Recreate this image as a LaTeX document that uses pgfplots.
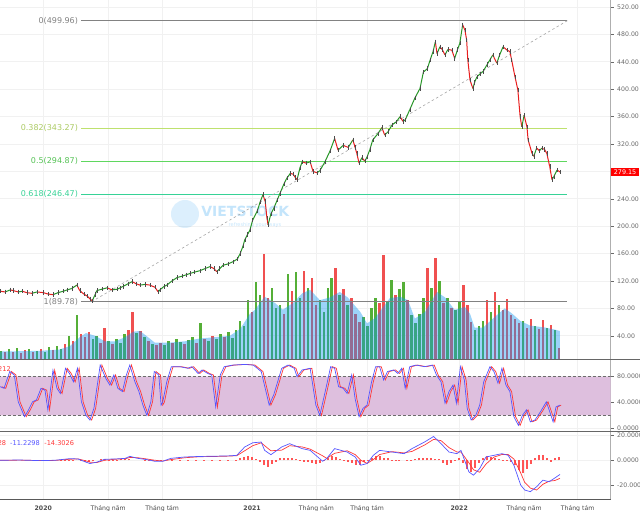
\documentclass[border=0pt]{standalone}
\usepackage{pgfplots}
\pgfplotsset{compat=1.18}
\usepackage{pgfplotstable}
\usepackage{fontspec}
\setmainfont{DejaVu Sans}
\definecolor{upg}{RGB}{40,150,40}
\definecolor{dnr}{RGB}{232,30,30}
\definecolor{volg}{RGB}{85,175,55}
\definecolor{volr}{RGB}{240,80,80}
\definecolor{mablue}{RGB}{20,150,240}
\definecolor{fib0}{RGB}{130,130,130}
\definecolor{fib382}{RGB}{190,225,110}
\definecolor{fib5}{RGB}{95,215,95}
\definecolor{fib618}{RGB}{55,210,150}
\definecolor{band}{RGB}{222,191,222}
\definecolor{axgray}{RGB}{175,175,175}
\definecolor{lblgray}{RGB}{105,105,105}
\definecolor{gridc}{RGB}{241,241,241}
\definecolor{mblue}{RGB}{85,85,255}
\definecolor{mred}{RGB}{255,55,55}
\newcommand\tf{\fontsize{6.2}{7}\selectfont}
\newcommand\lf{\fontsize{6.6}{7.5}\selectfont}
\newcommand\ff{\fontsize{8}{9}\selectfont}

% price: d = days since 2020-01-01, p = close, m = 1 if next move up
\pgfplotstableread{
d p m
-76 105 0
-67 104 1
-58 107 0
-53 106 0
-44 104 1
-37 105 0
-29 103 0
-20 102 1
-11 104 0
0 103 0
8 101 0
17 100 1
26 103 1
35 105 1
42 107 1
50 109 1
59 114 0
64 106 0
71 101 0
77 98 0
82 94 0
86 91 1
91 100 1
94 106 1
103 108 1
112 110 0
121 107 1
130 108 1
135 110 1
140 112 1
149 116 1
156 119 0
163 116 0
170 114 1
179 115 0
187 114 0
196 111 0
202 104 1
205 107 1
212 112 1
217 114 1
226 120 1
235 125 1
244 127 1
251 129 1
258 131 1
266 133 1
275 135 1
284 138 1
293 141 0
300 138 0
305 133.5 1
310 138 1
316 143 1
325 145 1
333 148 1
341 152 1
346 160 1
351 171 1
354 180 1
359 188 1
363 194 1
368 209 1
376 222 1
381 235 1
386 246 0
390 236 0
393 212 0
395 202 1
400 218 1
405 226 1
411 238 1
416 248 1
423 262 1
428 270 1
434 277 0
439 276 0
443 271 0
446 268 1
451 285 1
455 294 0
462 292 1
469 294 0
474 280 0
481 278 1
486 281 1
495 294 1
504 310 1
512 328 0
518 311 1
527 318 0
536 315 1
544 326 0
548 315 0
551 306 0
555 292 1
560 300 0
565 295 1
569 301 1
574 312 1
579 326 1
588 335 1
595 344 0
600 333 1
606 338 1
613 348 1
620 352 1
627 360 0
632 353 1
636 355 1
644 370 1
653 387 1
662 401 1
668 425 1
675 430 1
680 443 1
685 455 1
689 469 0
692 452 1
697 462 0
701 458 0
706 450 1
711 458 0
718 457 0
723 445 1
728 458 1
732 467 1
737 494 0
741 486 0
744 472 0
746 443 0
750 413 0
755 401 1
758 410 1
762 418 1
767 422 1
773 426 1
780 436 1
785 443 1
790 450 0
797 438 1
802 450 1
808 462 0
815 457 0
820 455 0
823 443 0
829 418 0
834 399 0
838 360 0
841 345 1
845 362 0
850 345 0
852 326 0
859 306 0
862 302 1
867 314 0
872 310 1
876 314 0
881 312 0
885 306 0
890 287 0
894 268 1
897 272 1
903 282 0
908 279.15 0
}\price

% volume (drawn on the price scale): g = up week, r = down week
\pgfplotstableread{
d g r
-74 18 nan
-67 nan 16
-60 20 nan
-53 nan 17
-46 22 nan
-39 nan 15
-32 nan 19
-25 21 nan
-18 nan 17
-11 18 nan
-4 nan 20
3 17 nan
10 23 nan
17 nan 19
24 25 nan
31 21 nan
38 nan 28
45 40 nan
52 nan 33
59 70 nan
66 nan 42
73 nan 38
80 nan 45
87 36 nan
94 40 nan
101 nan 30
108 nan 51
115 33 nan
122 nan 28
129 35 nan
136 30 nan
143 42 nan
150 nan 48
157 nan 75
164 44 nan
171 nan 47
178 38 nan
185 nan 32
192 28 nan
199 nan 26
206 nan 30
213 27 nan
220 33 nan
227 nan 29
234 35 nan
241 31 nan
248 nan 28
255 34 nan
262 38 nan
269 nan 30
276 58 nan
283 nan 36
290 32 nan
297 nan 40
304 35 nan
311 42 nan
318 nan 38
325 45 nan
332 37 nan
339 48 nan
346 62 nan
353 55 nan
360 92 nan
367 nan 75
374 118 nan
381 100 nan
388 nan 160
395 nan 95
402 110 nan
409 80 nan
416 85 nan
423 nan 72
430 130 nan
437 nan 105
444 133 nan
451 95 nan
458 nan 135
465 110 nan
472 nan 125
479 nan 85
486 92 nan
493 75 nan
500 110 nan
507 125 nan
514 nan 139
521 100 nan
528 nan 108
535 85 nan
542 nan 95
549 nan 72
556 nan 60
563 68 nan
570 55 nan
577 80 nan
584 95 nan
591 nan 88
598 nan 158
605 90 nan
612 121 nan
619 nan 100
626 108 nan
633 118 nan
640 nan 92
647 70 nan
654 58 nan
661 72 nan
668 95 nan
675 nan 139
682 110 nan
689 nan 153
696 120 nan
703 nan 88
710 95 nan
717 nan 80
724 77 nan
731 90 nan
738 nan 114
745 nan 85
752 nan 60
759 48 nan
766 55 nan
773 62 nan
780 nan 92
787 75 nan
794 nan 104
801 85 nan
808 nan 78
815 nan 93
822 nan 70
829 nan 65
836 nan 58
843 62 nan
850 nan 52
857 nan 64
864 55 nan
871 nan 50
878 nan 63
885 52 nan
892 nan 56
899 48 nan
906 nan 22
}\vol

\pgfplotstableread{
d ma
-76 17
-6 18
29 20
47 25
64 38
75 44
91 40
108 32
126 32
144 38
158 46
170 47
184 38
196 30
222 30
249 32
275 36
302 38
328 40
346 50
363 72
372 78
389 97
407 88
421 78
439 88
455 102
469 107
477 100
486 92
504 96
521 104
535 96
557 75
569 58
583 66
609 95
627 97
641 92
653 65
671 75
692 104
706 96
723 78
741 82
750 72
758 52
773 52
794 68
811 80
823 73
838 62
855 55
882 52
899 49
908 47
}\volma

\pgfplotstableread{
d k d2
-76 64.5 -73
-69 62 -66
-59 88 -56
-51 82.6 -48
-44 41 -41
-33 18 -30
-26 28.5 -23
-19 41 -16
-12 44 -9
-4 62 -1
3 59 6
8 28.5 11
17 90 20
24 62 27
30 54 33
39 93 42
46 85 49
53 72 56
60 93 63
67 41 70
75 20 78
82 12.8 85
89 31 92
100 98 103
110 77 113
117 67 120
124 82.6 127
131 62 134
139 57 142
146 82.6 149
152 98 155
161 72 164
168 57 171
175 36 178
182 20 185
189 41 192
195 88 198
203 82.6 206
207 36 210
210 41 213
217 72 220
225 95.5 228
240 95.5 243
254 93 257
261 95.5 264
272 85 275
279 90.4 282
289 85 292
296 82.6 299
303 33 306
311 82.6 314
318 95.5 321
333 98 336
354 99 357
369 98 372
383 88 386
397 36 400
405 52 408
419 93 422
430 98 433
441 93 444
446 80 449
455 90.4 458
469 93 472
479 36 482
486 20 489
498 67 501
505 95.5 508
512 93 515
519 64.5 522
527 62 530
534 54 537
542 82.6 545
548 46 551
555 18 558
562 31 565
569 36 572
577 72 580
584 95.5 587
591 95.5 594
598 75 601
605 88 608
616 90.4 619
623 85 626
630 93 633
636 62 639
644 95.5 647
655 98 658
670 95.5 673
684 98 687
691 82.6 694
699 72 702
706 39 709
713 57 716
720 67 723
726 39 729
733 95.5 736
740 75 743
745 31 748
752 12.8 755
760 20 763
767 36 770
774 72 777
785 95.5 788
792 88 795
799 70 802
806 93 809
813 67 816
820 57 823
827 18 830
835 4.5 838
842 20 845
849 28.5 852
856 10 859
864 12.8 867
874 26 877
884 41 887
889 28.5 892
896 10 899
901 33 904
908 36 910
}\stoch

\pgfplotstableread{
d b s
-76 0 0
-41 0.2 0.1
-6 -0.3 -0.2
21 0 -0.1
47 1.3 0.8
61 1.0 1.1
75 -1.5 -0.5
82 -2.6 -1.5
94 -1.5 -1.8
108 0.8 0
126 1.0 0.8
144 1.5 1.2
152 3.1 2.2
166 1.5 2.0
182 0.5 1.0
196 -0.8 0
210 -0.8 -0.6
224 1.5 0.5
249 2.6 2.0
275 3.0 2.8
302 3.2 3.0
328 3.5 3.3
340 3.9 3.6
354 10.5 7.5
368 13.8 11.5
383 14.4 13.8
389 7.8 11.5
400 4.4 7.5
419 10.5 8
433 13.1 11.5
455 9.2 10.5
469 7.8 8.8
491 -0.8 3.5
498 1.3 1.5
512 9.2 5.5
534 6.5 7.5
548 2.6 4.5
558 -3.9 0
569 -2.6 -2.5
580 3.9 0.5
591 7.8 4.5
613 6.5 6.8
634 5.2 5.8
648 9.2 7
670 14.4 12
686 18.8 16.5
699 13.1 15.5
713 6.5 10
727 5.2 6.5
734 7.8 6.5
748 -9.2 -2
756 -11.8 -7.5
767 -6.5 -9.5
778 2.6 -3
792 3.9 2.5
806 5.2 4.5
817 3.9 4.5
827 -3.9 1
839 -19.6 -10
846 -23.5 -17.5
856 -24.8 -22
867 -20.9 -23.5
878 -15.7 -19
889 -17 -16.5
899 -14 -16
908 -11.2 -14.3
}\macd

\pgfplotstableread{
d h
31 0.3
38 0.5
45 0.5
52 0.3
66 -0.8
73 -1.2
80 -1.0
87 -0.5
101 0.8
108 1.0
115 0.5
122 0.3
129 0.4
136 0.6
143 0.9
150 0.6
178 -0.5
185 -0.6
192 -0.8
199 -0.5
206 -0.3
227 0.3
241 0.3
255 0.3
269 0.3
283 0.3
297 0.3
311 0.3
325 0.3
339 0.3
346 1.5
353 2.5
360 3
367 2.5
374 1
381 -1
388 -3.5
395 -5
402 -3
409 -1
416 1.5
423 2
430 2
437 1.5
444 1
451 -0.5
458 -1
465 -1.5
472 -2.5
479 -3
486 -2
493 0.5
500 2
507 3
514 2.5
521 1
528 -0.5
535 -1.5
542 -2.5
549 -3.5
556 -3.5
563 -1
570 0.5
577 2
584 3
591 3
598 2
605 1.5
612 -0.5
619 -0.3
626 0.3
640 -0.3
647 0.5
654 1
661 1.5
668 2
675 2
682 1.5
689 1
696 1
703 -2
710 -3.5
717 -2.5
724 -0.5
731 1.5
738 -2
745 -7
752 -9.5
759 -6
766 -2
773 1.5
780 3
787 2.5
794 1.5
801 1
808 0.5
815 -0.5
822 -1
829 -4
836 -8
843 -10
850 -7
857 -3
864 2
871 4
878 4
885 2
892 -1.5
899 1.5
906 2.5
}\hist

\pgfplotsset{
  panel/.style={
    scale only axis, width=610.7pt, xmin=-76.1, xmax=997.2,
    axis y line*=right, axis x line*=bottom,
    y axis line style={axgray, line width=1.3pt},
    xtick={0,114,209,367,480,569,731,845,939},
    grid=major, major grid style={gridc, line width=0.6pt},
    tick align=outside, major tick length=3pt,
    ytick style={lblgray, line width=0.4pt},
    xtick style={draw=none},
    yticklabel style={font=\tf, text=lblgray,
      /pgf/number format/assume math mode=true,
      /pgf/number format/fixed, /pgf/number format/fixed zerofill},
    scaled y ticks=false,
  },
  toppanel/.style={panel, x axis line style={draw=none}, xticklabel={\phantom{0}}},
}

\begin{document}
\begin{tikzpicture}[x=1pt,y=1pt]

% ---------- price + volume ----------
\begin{axis}[toppanel, at={(0pt,0pt)}, anchor=north west, height=359pt,
  ymin=6.1, ymax=530.2, ytick={40,80,...,520},
  yticklabel style={/pgf/number format/precision=2}]
  % volume
  \addplot[ycomb, volg, line width=2.6pt] table[x=d,y=g]{\vol};
  \addplot[ycomb, volr, line width=2.6pt] table[x=d,y=r]{\vol};
  \addplot[fill=mablue, fill opacity=0.42, draw=none] table[x=d,y=ma]{\volma} \closedcycle;
  % watermark
  \node[circle, fill=mablue, fill opacity=0.15, minimum size=28pt, inner sep=0] at (axis cs:249,217.8) {};
  \node[text=mablue, text opacity=0.25, font=\bfseries\fontsize{14}{14}\selectfont] at (axis cs:355,222) {VIETSTOCK};
  \node[text=mablue, text opacity=0.25, font=\fontsize{5}{5}\selectfont] at (axis cs:372,201) {refreshing your ways};
  % fibonacci levels
  \addplot[fib0, line width=0.8pt] coordinates {(67,499.96) (921,499.96)};
  \addplot[fib382, line width=0.8pt] coordinates {(67,343.27) (921,343.27)};
  \addplot[fib5, line width=0.8pt] coordinates {(67,294.87) (921,294.87)};
  \addplot[fib618, line width=0.8pt] coordinates {(67,246.47) (921,246.47)};
  \addplot[fib0, line width=0.8pt] coordinates {(67,89.78) (921,89.78)};
  \addplot[gray!70, dash pattern=on 2.5pt off 2.5pt, line width=0.6pt] coordinates {(85,89.78) (921,499.96)};
  \node[anchor=east, font=\ff, text=fib0, inner sep=1pt] at (axis cs:63,499.96) {0(499.96)};
  \node[anchor=east, font=\ff, text=fib382!90!black, inner sep=1pt] at (axis cs:63,343.27) {0.382(343.27)};
  \node[anchor=east, font=\ff, text=fib5!90!black, inner sep=1pt] at (axis cs:63,294.87) {0.5(294.87)};
  \node[anchor=east, font=\ff, text=fib618, inner sep=1pt] at (axis cs:63,246.47) {0.618(246.47)};
  \node[anchor=east, font=\ff, text=fib0, inner sep=1pt] at (axis cs:63,89.78) {1(89.78)};
  % price: wicks, then colored bodies
  \addplot[only marks, mark=|, mark size=2.2pt, black!70, mark options={line width=0.4pt}]
    table[x=d,y=p]{\price};
  \addplot[mesh, shader=flat corner, point meta=explicit, point meta min=0, point meta max=1,
    colormap={updown}{color=(dnr) color=(upg)}, line width=1pt]
    table[x=d,y=p,meta=m]{\price};
  \coordinate (lastp) at (axis cs:997.2,279.15);
\end{axis}

% ---------- stochastic ----------
\begin{axis}[toppanel, at={(0pt,-359pt)}, anchor=north west, height=72pt,
  ymin=-4.2, ymax=107.4, ytick={0,40,80},
  yticklabel style={/pgf/number format/precision=4}]
  \addplot[fill=band, draw=none] coordinates {(-80,20) (1000,20) (1000,80) (-80,80) (-80,20)};
  \addplot[gray!85!black, dash pattern=on 3pt off 2pt, line width=0.6pt] coordinates {(-80,80) (1000,80)};
  \addplot[gray!85!black, dash pattern=on 3pt off 2pt, line width=0.6pt] coordinates {(-80,20) (1000,20)};
  \addplot[mred, line width=0.7pt] table[x=d2,y=k]{\stoch};
  \addplot[mblue, line width=0.7pt] table[x=d,y=k]{\stoch};
  \node[anchor=east, font=\lf, text=mred, inner sep=0] at (axis cs:-56.8,91) {35.0212};
\end{axis}

% ---------- MACD ----------
\begin{axis}[panel, at={(0pt,-431pt)}, anchor=north west, height=68pt,
  ymin=-30.6, ymax=23.1, ytick={-20,0,20},
  yticklabel style={/pgf/number format/precision=4},
  x axis line style={black!65, line width=0.9pt},
  xticklabels={\textbf{2020},Tháng năm,Tháng tám,\textbf{2021},Tháng năm,Tháng tám,\textbf{2022},Tháng năm,Tháng tám},
  xticklabel style={font=\tf, text=black!70, yshift=-0.5pt}]
  \addplot[ycomb, mred!85, line width=2pt] table[x=d,y=h]{\hist};
  \addplot[mred, line width=0.7pt] table[x=d,y=s]{\macd};
  \addplot[mblue, line width=0.7pt] table[x=d,y=b]{\macd};
  \node[anchor=west, font=\lf, inner sep=0] at (axis cs:-76.1,13.9)
    {\hbox to 6pt{\hss\textcolor{mred}{3.0728}}\hspace{4pt}\textcolor{mblue}{-11.2298}\hspace{4.5pt}\textcolor{mred}{-14.3026}};
\end{axis}

% panel dividers and last-price tag
\draw[black!60, line width=0.9pt] (0,-359) -- (640,-359);
\draw[black!60, line width=0.9pt] (0,-431) -- (640,-431);
\node[anchor=west, fill=red, text=white, font=\fontsize{6.4}{7}\selectfont, inner xsep=2.5pt, inner ysep=1.2pt] at ([xshift=0.5pt]lastp) {279.15};

\pgfresetboundingbox
\useasboundingbox (0,-511) rectangle (640,0);
\end{tikzpicture}
\end{document}
